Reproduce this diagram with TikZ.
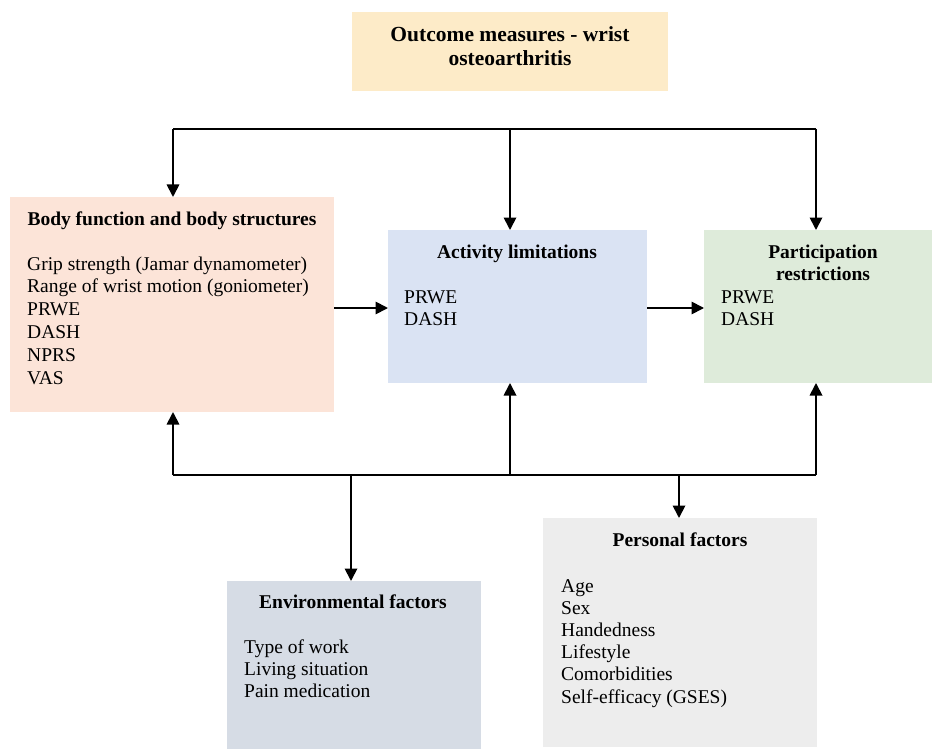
\documentclass[tikz,border=0pt]{standalone}
\usepackage{fontspec}
\setmainfont{Liberation Serif}
\usetikzlibrary{arrows.meta}
\definecolor{ctitle}{HTML}{FDEBC8}
\definecolor{cbody}{HTML}{FCE4D8}
\definecolor{cact}{HTML}{DAE3F3}
\definecolor{cpart}{HTML}{DEEBDA}
\definecolor{cenv}{HTML}{D6DCE5}
\definecolor{cpers}{HTML}{EDEDED}
\begin{document}
\begin{tikzpicture}[x=1pt,y=-1pt,
  box/.style={draw=none, inner sep=0pt, outer sep=0pt, anchor=north west, rectangle},
  hd/.style={font=\fontsize{19.5}{22}\selectfont\bfseries, inner sep=0pt, anchor=base},
  bighd/.style={font=\fontsize{21.5}{24.5}\selectfont\bfseries, inner sep=0pt, anchor=base},
  txt/.style={font=\fontsize{19.5}{22.2}\selectfont, inner sep=0pt, anchor=base west},
  conn/.style={line width=1.8pt, black},
  arr/.style={conn, -{Triangle[length=12.5pt,width=12.5pt]}},
]
\useasboundingbox (0,0) rectangle (932,749);

% boxes
\node[box, fill=ctitle, minimum width=316pt, minimum height=79pt] (ttl) at (352,12) {};
\node[box, fill=cbody, minimum width=324pt, minimum height=215pt] (body) at (10,197) {};
\node[box, fill=cact, minimum width=259pt, minimum height=153pt] (act) at (388,230) {};
\node[box, fill=cpart, minimum width=228pt, minimum height=153pt] (part) at (704,230) {};
\node[box, fill=cenv, minimum width=254pt, minimum height=168pt] (env) at (227,581) {};
\node[box, fill=cpers, minimum width=274pt, minimum height=229pt] (pers) at (543,518) {};

% texts
\node[bighd] (ttltxt) at (510,41.5) {\begin{tabular}[t]{@{}c@{}}Outcome measures - wrist\\osteoarthritis\end{tabular}};

\node[hd] (bodyhd) at (172,225) {Body function and body structures};
\node[txt, font=\fontsize{19.5}{22.8}\selectfont] (bodytxt) at (27,270) {\begin{tabular}[t]{@{}l@{}}Grip strength (Jamar dynamometer)\\Range of wrist motion (goniometer)\\PRWE\\DASH\\NPRS\\VAS\end{tabular}};

\node[hd] (acthd) at (517,258) {Activity limitations};
\node[txt, font=\fontsize{19.5}{22}\selectfont] (acttxt) at (404,303) {\begin{tabular}[t]{@{}l@{}}PRWE\\DASH\end{tabular}};

\node[hd] (parthd) at (823,258) {\begin{tabular}[t]{@{}c@{}}Participation\\restrictions\end{tabular}};
\node[txt, font=\fontsize{19.5}{22}\selectfont] (parttxt) at (721,303) {\begin{tabular}[t]{@{}l@{}}PRWE\\DASH\end{tabular}};

\node[hd] (envhd) at (353,608) {Environmental factors};
\node[txt, font=\fontsize{19.5}{22}\selectfont] (envtxt) at (244,653) {\begin{tabular}[t]{@{}l@{}}Type of work\\Living situation\\Pain medication\end{tabular}};

\node[hd] (pershd) at (680,546) {Personal factors};
\node[txt] (perstxt) at (561,592) {\begin{tabular}[t]{@{}l@{}}Age\\Sex\\Handedness\\Lifestyle\\Comorbidities\\Self-efficacy (GSES)\end{tabular}};

% junction coordinates
\coordinate (tl) at (173,129);
\coordinate (tm) at (510,129);
\coordinate (tr) at (816,129);
\coordinate (bl) at (173,475);
\coordinate (be) at (351,475);
\coordinate (bm) at (510,475);
\coordinate (bp) at (679,475);
\coordinate (br) at (816,475);
\coordinate (hy) at (0,308);

% top distribution
\draw[conn] (tl) -- (tr);
\draw[arr] (tl) -- (tl |- body.north);
\draw[arr] (tm) -- (tm |- act.north);
\draw[arr] (tr) -- (tr |- part.north);

% bottom distribution
\draw[conn] (bl) -- (br);
\draw[arr] (bl) -- (bl |- body.south);
\draw[arr] (bm) -- (bm |- act.south);
\draw[arr] (br) -- (br |- part.south);
\draw[arr] (be) -- (be |- env.north);
\draw[arr] (bp) -- (bp |- pers.north);

% horizontal flow
\draw[arr] (body.east |- hy) -- (act.west |- hy);
\draw[arr] (act.east |- hy) -- (part.west |- hy);
\end{tikzpicture}
\end{document}
